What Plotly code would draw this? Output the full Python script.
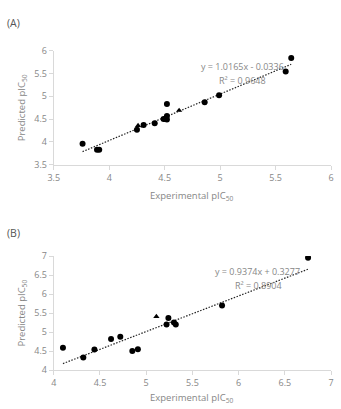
import numpy as np
import plotly.graph_objects as go

# Panel A data
a_circ_x = [3.76, 3.89, 3.91, 4.25, 4.31, 4.41, 4.49, 4.505, 4.52, 4.52, 4.52, 4.86, 4.99, 5.59, 5.64]
a_circ_y = [3.96, 3.83, 3.83, 4.27, 4.37, 4.41, 4.50, 4.50, 4.57, 4.49, 4.83, 4.87, 5.02, 5.54, 5.84]
a_tri_x = [4.26, 4.63]
a_tri_y = [4.36, 4.69]
a_slope, a_icpt = 1.0165, -0.0336
a_eq = "y = 1.0165x - 0.0336"
a_r2 = "R² = 0.9648"

# Panel B data
b_circ_x = [4.10, 4.32, 4.44, 4.62, 4.72, 4.85, 4.91, 5.22, 5.24, 5.30, 5.32, 5.82, 6.75]
b_circ_y = [4.59, 4.33, 4.54, 4.82, 4.88, 4.50, 4.55, 5.20, 5.37, 5.25, 5.20, 5.70, 6.96]
b_tri_x = [5.11]
b_tri_y = [5.41]
b_slope, b_icpt = 0.9374, 0.3277
b_eq = "y = 0.9374x + 0.3277"
b_r2 = "R² = 0.8904"

a_xticks = [3.5, 4, 4.5, 5, 5.5, 6]
a_yticks = [3.5, 4, 4.5, 5, 5.5, 6]
b_xticks = [4, 4.5, 5, 5.5, 6, 6.5, 7]
b_yticks = [4, 4.5, 5, 5.5, 6, 6.5, 7]

W, H = 341, 409
FONT = "Open Sans"
TICK_C = "#878787"
AX_C = "#d9d9d9"

fig = go.Figure()

def add_panel(cx, cy, tx, ty, slope, icpt, xa, ya):
    allx = np.array(cx + tx)
    lx = np.array([allx.min(), allx.max()])
    fig.add_trace(go.Scatter(x=lx, y=slope * lx + icpt, mode="lines",
                             line=dict(color="#222", width=1.2, dash="1.5px,1.5px"),
                             xaxis=xa, yaxis=ya, showlegend=False, hoverinfo="skip"))
    fig.add_trace(go.Scatter(x=cx, y=cy, mode="markers",
                             marker=dict(color="black", size=6, symbol="circle"),
                             xaxis=xa, yaxis=ya, showlegend=False))
    fig.add_trace(go.Scatter(x=tx, y=ty, mode="markers",
                             marker=dict(color="black", size=5.5, symbol="triangle-up"),
                             xaxis=xa, yaxis=ya, showlegend=False))

add_panel(a_circ_x, a_circ_y, a_tri_x, a_tri_y, a_slope, a_icpt, "x", "y")
add_panel(b_circ_x, b_circ_y, b_tri_x, b_tri_y, b_slope, b_icpt, "x2", "y2")

xd = [49 / W, 334 / W]
ad = [1 - 163 / H, 1 - 45 / H]
bd = [1 - 375 / H, 1 - 257.3 / H]

def axis(rng, ticks, dom, anchor):
    return dict(range=rng, tickvals=ticks, ticktext=[f"{t:g}" for t in ticks],
                domain=dom, anchor=anchor, showgrid=False, zeroline=False,
                showline=True, linecolor=AX_C, linewidth=1,
                ticks="outside", ticklen=4, tickcolor=AX_C,
                tickfont=dict(family=FONT, size=9, color=TICK_C))

fig.update_layout(
    width=W, height=H, margin=dict(l=0, r=0, t=0, b=0),
    paper_bgcolor="white", plot_bgcolor="white",
    xaxis=axis([3.5, 6], a_xticks, xd, "y"),
    yaxis=axis([3.5, 6], a_yticks, ad, "x"),
    xaxis2=axis([4, 7], b_xticks, xd, "y2"),
    yaxis2=axis([4, 7], b_yticks, bd, "x2"),
)

def px(xp, yp):
    return xp / W, 1 - yp / H

annots = [
    ("(A)", 8, 17, 10.5, "#555", 0),
    ("(B)", 8, 233, 10.5, "#555", 0),
    ("Experimental pIC<sub>50</sub>", 191, 195, 9.5, TICK_C, 0),
    ("Experimental pIC<sub>50</sub>", 191, 404, 9.5, TICK_C, 0),
    ("Predicted pIC<sub>50</sub>", 16, 104, 9.5, TICK_C, -90),
    ("Predicted pIC<sub>50</sub>", 16, 316, 9.5, TICK_C, -90),
    (a_eq, 243, 61, 9, TICK_C, 0),
    (a_r2, 243, 76, 9, TICK_C, 0),
    (b_eq, 258, 273, 9, TICK_C, 0),
    (b_r2, 259, 288, 9, TICK_C, 0),
]
for text, x0, y0, sz, col, ang in annots:
    xx, yy = px(x0, y0)
    fig.add_annotation(text=text, x=xx, y=yy, xref="paper", yref="paper",
                       showarrow=False, xanchor="center", yanchor="middle",
                       textangle=ang, font=dict(family=FONT, size=sz, color=col))

fig.write_html("out.html")
